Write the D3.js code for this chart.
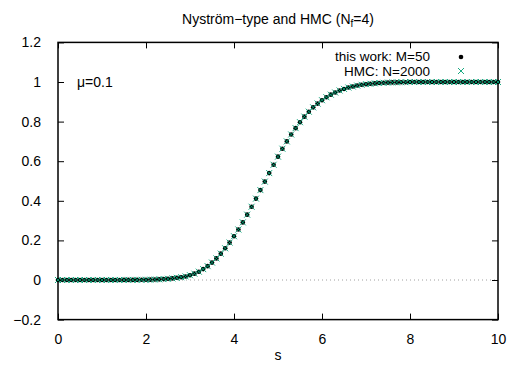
<!DOCTYPE html>
<html><head><meta charset="utf-8">
<script src="https://cdn.jsdelivr.net/npm/d3@7"></script>
<style>
body{margin:0;background:#fff;}
text{font-family:"Liberation Sans",Arial,Helvetica,sans-serif;}
</style></head>
<body>
<svg id="c" width="525" height="367"></svg>
<script>
const sValues = [0,0.1,0.2,0.3,0.4,0.5,0.6,0.7,0.8,0.9,1,1.1,1.2,1.3,1.4,1.5,1.6,1.7,1.8,1.9,
2,2.1,2.2,2.3,2.4,2.5,2.6,2.7,2.8,2.9,3,3.1,3.2,3.3,3.4,3.5,3.6,3.7,3.8,3.9,
4,4.1,4.2,4.3,4.4,4.5,4.6,4.7,4.8,4.9,5,5.1,5.2,5.3,5.4,5.5,5.6,5.7,5.8,5.9,
6,6.1,6.2,6.3,6.4,6.5,6.6,6.7,6.8,6.9,7,7.1,7.2,7.3,7.4,7.5,7.6,7.7,7.8,7.9,
8,8.1,8.2,8.3,8.4,8.5,8.6,8.7,8.8,8.9,9,9.1,9.2,9.3,9.4,9.5,9.6,9.7,9.8,9.9,10];
const thisWork = [0,0,0,0,0,0,0,0.0001,0.0001,0.0001,0.0001,0.0002,0.0002,0.0003,0.0003,0.0004,0.0005,0.0006,0.0007,0.0009,
0.0012,0.0017,0.0024,0.0033,0.0045,0.006,0.008,0.011,0.014,0.018,
0.024,0.032,0.042,0.055,0.070,0.088,0.109,0.133,0.160,0.189,
0.221,0.255,0.291,0.330,0.370,0.411,0.454,0.497,0.540,0.582,
0.623,0.663,0.700,0.735,0.767,0.797,0.825,0.850,0.872,0.891,
0.908,0.923,0.936,0.947,0.957,0.965,0.972,0.977,0.982,0.986,
0.989,0.991,0.993,0.995,0.996,0.997,0.998,0.998,0.999,0.999,
1,1,1,1,1,1,1,1,1,1,1,1,1,1,1,1,1,1,1,1,1];
const hmc = [0,0,0,0,0,0,0,0.0001,0.0001,0.0001,0.0001,0.0002,0.0002,0.0003,0.0003,0.0004,0.0005,0.0006,0.0007,0.0009,
0.0012,0.0017,0.0024,0.0033,0.0045,0.006,0.008,0.011,0.014,0.018,
0.024,0.032,0.042,0.055,0.070,0.088,0.109,0.133,0.160,0.189,
0.221,0.255,0.291,0.330,0.370,0.411,0.454,0.497,0.540,0.582,
0.623,0.663,0.700,0.735,0.767,0.797,0.825,0.850,0.872,0.891,
0.908,0.923,0.936,0.947,0.957,0.965,0.972,0.977,0.982,0.986,
0.989,0.991,0.993,0.995,0.996,0.997,0.998,0.998,0.999,0.999,
1,1,1,1,1,1,1,1,1,1,1,1,1,1,1,1,1,1,1,1,1];
const xTicks = [0,2,4,6,8,10];
const yTicks = [-0.2,0,0.2,0.4,0.6,0.8,1,1.2];
const seriesNames = ["this work: M=50","HMC: N=2000"];

const svg = d3.select("#c");
const L=58,R=498,T=42.4,B=319.6;
const FS=14;
const x = d3.scaleLinear().domain([0,10]).range([L,R]);
const y = d3.scaleLinear().domain([-0.2,1.2]).range([B,T]);
const teal = "#009e73";
const fmt = v => (v<0?"\u2212":"") + d3.format("")(Math.abs(+v.toFixed(1)));

// zero line
svg.append("line").attr("x1",L).attr("x2",R).attr("y1",y(0)).attr("y2",y(0))
  .attr("stroke","#a0a0a0").attr("stroke-width",1).attr("stroke-dasharray","1,3");

// axes with inward ticks
const gx = svg.append("g").attr("transform",`translate(0,${B})`)
  .call(d3.axisBottom(x).tickValues(xTicks).tickSize(-6).tickPadding(14).tickFormat(d=>d));
const gxt = svg.append("g").attr("transform",`translate(0,${T})`)
  .call(d3.axisTop(x).tickValues(xTicks).tickSize(-6).tickFormat(""));
const gy = svg.append("g").attr("transform",`translate(${L},0)`)
  .call(d3.axisLeft(y).tickValues(yTicks).tickSize(-6).tickPadding(17).tickFormat(fmt));
const gyr = svg.append("g").attr("transform",`translate(${R},0)`)
  .call(d3.axisRight(y).tickValues(yTicks).tickSize(-6).tickFormat(""));
[gx,gxt,gy,gyr].forEach(g=>{
  g.select(".domain").remove();
  g.selectAll(".tick line").attr("stroke","#000").attr("stroke-width",1);
  g.selectAll("text").attr("font-size",FS).attr("fill","#000")
   .style("font-family","'Liberation Sans',Arial,sans-serif");
});
gx.selectAll(".tick text").attr("dy","0.71em");

svg.append("rect").attr("x",L).attr("y",T).attr("width",R-L).attr("height",B-T)
  .attr("fill","none").attr("stroke","#000").attr("stroke-width",1.5);

// data
const ptsA = sValues.map((s,i)=>({s,v:thisWork[i]}));
const ptsB = sValues.map((s,i)=>({s,v:hmc[i]}));
svg.append("g").selectAll("circle").data(ptsA).join("circle")
  .attr("cx",d=>x(d.s)).attr("cy",d=>y(d.v)).attr("r",2.3).attr("fill","#000");
const xs = 3;
const cross = (cx,cy)=>`M${cx-xs},${cy-xs}L${cx+xs},${cy+xs}M${cx-xs},${cy+xs}L${cx+xs},${cy-xs}`;
svg.append("g").selectAll("path").data(ptsB).join("path")
  .attr("d",d=>cross(x(d.s),y(d.v))).attr("stroke",teal).attr("stroke-width",0.9).attr("fill","none");

// title
const title = svg.append("text").attr("x",(L+R)/2).attr("y",24).attr("text-anchor","middle")
  .attr("font-size",FS);
title.append("tspan").text("Nyström\u2212type and HMC (N");
title.append("tspan").attr("font-size",10).attr("dy",3).text("f");
title.append("tspan").attr("dy",-3).text("=4)");

// axis label
svg.append("text").attr("x",(L+R)/2).attr("y",360).attr("text-anchor","middle")
  .attr("font-size",FS).text("s");

// mu label
svg.append("text").attr("x",77).attr("y",87).attr("font-size",FS).text("\u03bc=0.1");

// legend
const LFS=13.5;
svg.append("text").attr("x",430).attr("y",60.5).attr("text-anchor","end").attr("font-size",LFS).text(seriesNames[0]);
svg.append("text").attr("x",430).attr("y",76).attr("text-anchor","end").attr("font-size",LFS).text(seriesNames[1]);
svg.append("circle").attr("cx",461).attr("cy",57).attr("r",2.3).attr("fill","#000");
svg.append("path").attr("d",cross(461,71)).attr("stroke",teal).attr("stroke-width",0.9).attr("fill","none");
</script>
</body></html>
